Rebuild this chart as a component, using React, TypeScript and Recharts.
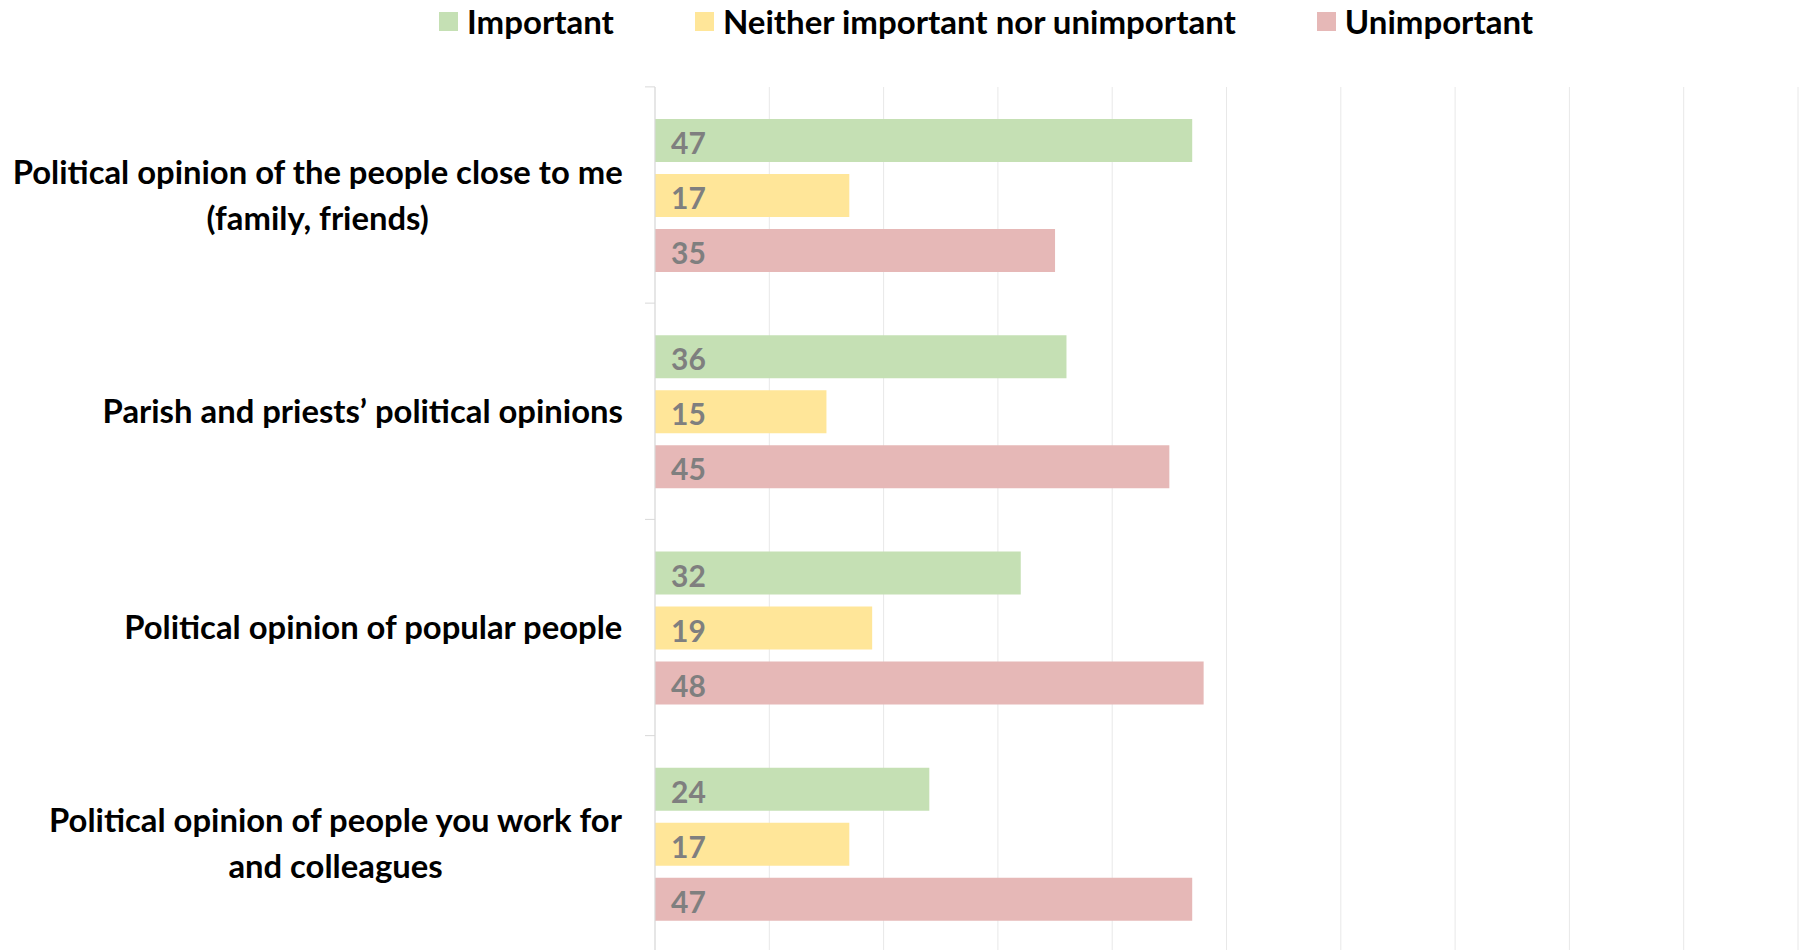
import { BarChart, Bar, XAxis, YAxis, CartesianGrid, LabelList } from 'recharts'

const categories = [
  'Political opinion of the people close to me\n(family, friends)',
  'Parish and priests’ political opinions',
  'Political opinion of popular people',
  'Political opinion of people you work for\nand colleagues',
]
const important = [47, 36, 32, 24]
const neither = [17, 15, 19, 17]
const unimportant = [35, 45, 48, 47]
const xTicks = [0, 10, 20, 30, 40, 50, 60, 70, 80, 90, 100]

const series = [
  { key: 'important', name: 'Important', color: '#C5E0B4' },
  { key: 'neither', name: 'Neither important nor unimportant', color: '#FFE699' },
  { key: 'unimportant', name: 'Unimportant', color: '#E6B8B7' },
]

const data = categories.map((name, i) => ({
  name,
  important: important[i],
  neither: neither[i],
  unimportant: unimportant[i],
}))

const W = 1808
const H = 953
const TOP = 87
const PLOT_LEFT = 655
const BAND = (H - TOP) / categories.length
const LABEL_FONT = 'bold 32.8px Lato'

let ctx: CanvasRenderingContext2D | null = null
function measure(s: string) {
  if (!ctx) ctx = document.createElement('canvas').getContext('2d')
  if (!ctx) return s.length * 16
  ctx.font = LABEL_FONT
  return ctx.measureText(s).width
}

// x ticks only feed the grid, nothing is drawn for them
const NoTick = () => <g />

function CategoryTick(props: any) {
  const { x, y, payload, index } = props
  const lines = String(payload.value).split('\n')
  const maxW = Math.max(...lines.map(measure))
  const cx = x - maxW / 2
  const lh = 46
  const y0 = y - ((lines.length - 1) * lh) / 2
  return (
    <g>
      <line x1={PLOT_LEFT - 10} x2={PLOT_LEFT} y1={y - BAND / 2} y2={y - BAND / 2} stroke="#D9D9D9" />
      {index === categories.length - 1 && (
        <line x1={PLOT_LEFT - 10} x2={PLOT_LEFT} y1={y + BAND / 2} y2={y + BAND / 2} stroke="#D9D9D9" />
      )}
      <text textAnchor="middle" fill="#000" style={{ font: LABEL_FONT }}>
        {lines.map((l, i) => (
          <tspan key={i} x={cx} y={y0 + i * lh} dy="0.35em">
            {l}
          </tspan>
        ))}
      </text>
    </g>
  )
}

function ValueLabel(props: any) {
  const { x, y, height, value } = props
  return (
    <text x={x + 16} y={y + height / 2 + 3} dy="0.35em" fill="#7F7F7F" style={{ font: 'bold 30px Lato' }}>
      {value}
    </text>
  )
}

export default function App() {
  return (
    <div style={{ position: 'absolute', left: 0, top: 0, width: W, height: 950, overflow: 'hidden', background: '#fff' }}>
      <div
        style={{
          position: 'absolute',
          top: 0,
          left: 439,
          height: 42,
          display: 'flex',
          alignItems: 'center',
          fontFamily: 'Lato',
          fontWeight: 700,
          fontSize: 33,
          color: '#000',
          whiteSpace: 'nowrap',
        }}
      >
        {series.map((s) => (
          <div key={s.key} style={{ display: 'flex', alignItems: 'center', marginRight: 81 }}>
            <span style={{ width: 19, height: 19, background: s.color, marginRight: 9 }} />
            <span>{s.name}</span>
          </div>
        ))}
      </div>
      <BarChart
        width={W}
        height={H}
        data={data}
        layout="vertical"
        margin={{ top: TOP, right: 10, left: 0, bottom: 0 }}
        barSize={43}
        barGap={12}
      >
        <CartesianGrid horizontal={false} stroke="#E8E8E8" />
        <XAxis
          type="number"
          domain={[0, 100]}
          ticks={xTicks}
          interval={0}
          height={1}
          tick={NoTick}
          axisLine={false}
          tickLine={false}
        />
        <YAxis
          type="category"
          dataKey="name"
          width={PLOT_LEFT}
          tickSize={0}
          tickMargin={32}
          tickLine={false}
          axisLine={{ stroke: '#D9D9D9' }}
          tick={<CategoryTick />}
          interval={0}
        />
        {series.map((s) => (
          <Bar key={s.key} dataKey={s.key} name={s.name} fill={s.color} isAnimationActive={false}>
            <LabelList dataKey={s.key} content={<ValueLabel />} />
          </Bar>
        ))}
      </BarChart>
    </div>
  )
}
